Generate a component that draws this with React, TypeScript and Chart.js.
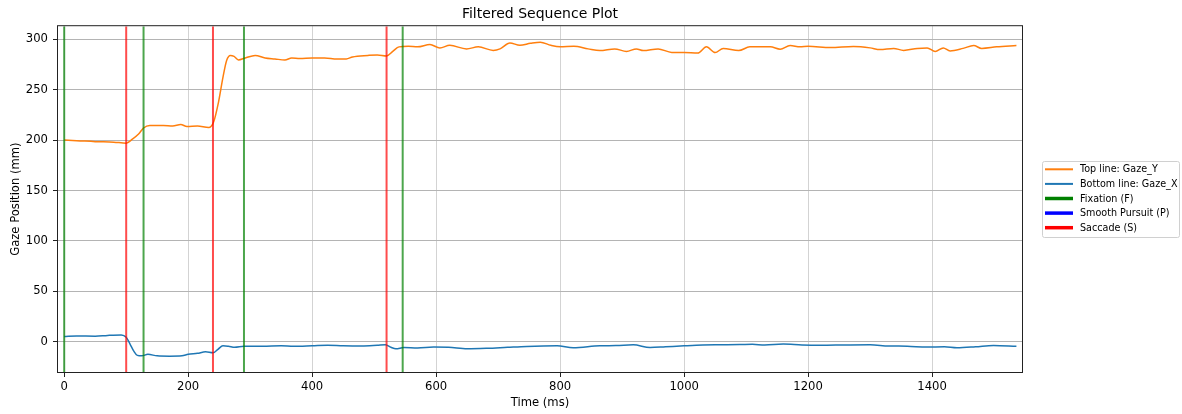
import { useEffect, useRef } from "react";
import { Chart, registerables } from "chart.js";

Chart.register(...registerables);

// ---- data ----
const gazeYTimes = [0, 20, 50, 80, 100, 110, 120, 128, 138, 160, 175, 188, 198, 215, 233, 241, 249, 256, 262, 268, 274, 281, 292, 308, 324, 340, 356, 367, 380, 400, 420, 440, 455, 465, 490, 505, 520, 530, 540, 555, 570, 590, 606, 622, 649, 668, 692, 703, 719, 735, 752, 768, 785, 800, 822, 845, 864, 888, 907, 923, 934, 958, 980, 1000, 1022, 1036, 1050, 1063, 1088, 1106, 1139, 1155, 1171, 1187, 1200, 1236, 1273, 1300, 1316, 1338, 1354, 1376, 1392, 1405, 1418, 1429, 1450, 1467, 1480, 1504, 1536];
const gazeYValues = [200, 199.5, 198.5, 198, 197, 201, 206, 212, 214.5, 214.5, 214, 215.5, 213.5, 214, 212.5, 218, 238, 262, 279, 284, 283, 279.5, 281.5, 284, 281.5, 280.5, 279.5, 281.5, 281, 281.5, 281.5, 280.5, 280.5, 282.5, 284, 284.5, 283.5, 288, 292.5, 293, 292.5, 294.8, 291.5, 294, 290.5, 292.5, 289, 290.5, 296.4, 294, 296, 297.2, 294, 292.5, 293, 290.5, 288.8, 290.5, 288, 290.5, 288.8, 290.5, 287, 287, 286.3, 292.5, 286.8, 291, 288.8, 292.5, 292.5, 290.2, 293.8, 292.5, 293, 291.8, 292.8, 291.5, 289.8, 291, 289, 291, 291.5, 288, 291.5, 288.5, 291, 293.8, 291, 292.5, 293.8];

const gazeXTimes = [0, 20, 50, 70, 92, 100, 106, 112, 118, 125, 135, 150, 170, 190, 200, 215, 228, 240, 248, 256, 265, 275, 290, 320, 350, 370, 400, 425, 450, 480, 505, 518, 527, 535, 548, 570, 596, 620, 650, 682, 715, 746, 795, 821, 864, 890, 918, 945, 970, 1000, 1030, 1060, 1090, 1110, 1130, 1160, 1190, 1220, 1260, 1300, 1330, 1360, 1391, 1420, 1440, 1470, 1499, 1536];
const gazeXValues = [5.2, 5.8, 5.5, 6.3, 6.8, 4.5, -2, -9, -13.5, -14, -12.5, -14, -14.3, -14, -12.5, -11.5, -10, -11, -7.5, -4, -4.5, -5.5, -4.5, -4.5, -4, -4.5, -4, -3.5, -4, -4.2, -3.5, -3, -5.5, -7, -5.8, -6.2, -5.3, -5.5, -7, -6.5, -5.5, -4.6, -4, -6, -4, -3.8, -3, -5.8, -5, -4, -3.2, -3, -2.8, -2.5, -3.2, -2.3, -3.2, -3.5, -3.2, -3, -4.2, -4.4, -5.3, -5, -6, -5, -3.6, -4.5];

const fixationTimes = [0, 128, 290, 546];
const smoothPursuitTimes: number[] = [];
const saccadeTimes = [100, 240, 520];

const xTickValues = [0, 200, 400, 600, 800, 1000, 1200, 1400];
const yTickValues = [0, 50, 100, 150, 200, 250, 300];

const titleText = "Filtered Sequence Plot";
const xLabel = "Time (ms)";
const yLabel = "Gaze Position (mm)";
const legendLabels = ["Top line: Gaze_Y", "Bottom line: Gaze_X", "Fixation (F)", "Smooth Pursuit (P)", "Saccade (S)"];

const X_MIN = -10;
const X_MAX = 1545;
const Y_MIN = -30;
const Y_MAX = 313;

// ---- styles ----
const FONT = "'DejaVu Sans', sans-serif";
const ORANGE = "#ff7f0e";
const BLUE = "#1f77b4";
const legendColors = [ORANGE, BLUE, "#008000", "#0000ff", "#ff0000"];
const legendWidths = [2, 2, 3.5, 3.5, 3.5];

const zip = (xs: number[], ys: number[]) => xs.map((x, i) => ({ x, y: ys[i] }));

const eventDatasets = (times: number[], color: string, label: string) =>
  times.map((t) => ({
    label,
    data: [
      { x: t, y: Y_MIN },
      { x: t, y: Y_MAX },
    ],
    borderColor: color,
    borderWidth: 2,
    pointRadius: 0,
    tension: 0,
    order: 0,
  }));

const framePlugin = {
  id: "frame",
  afterDraw(chart: any) {
    const { ctx, chartArea } = chart;
    ctx.save();
    ctx.strokeStyle = "#222";
    ctx.lineWidth = 1;
    ctx.strokeRect(chartArea.left - 0.5, chartArea.top - 0.5, chartArea.right - chartArea.left + 1, chartArea.bottom - chartArea.top + 1);
    ctx.restore();
  },
};

const legendPlugin = {
  id: "customLegend",
  afterDraw(chart: any) {
    const { ctx } = chart;
    const bx = 1042.5, by = 161.5, bw = 137, bh = 76, r = 2;
    ctx.save();
    ctx.beginPath();
    ctx.moveTo(bx + r, by);
    ctx.lineTo(bx + bw - r, by);
    ctx.quadraticCurveTo(bx + bw, by, bx + bw, by + r);
    ctx.lineTo(bx + bw, by + bh - r);
    ctx.quadraticCurveTo(bx + bw, by + bh, bx + bw - r, by + bh);
    ctx.lineTo(bx + r, by + bh);
    ctx.quadraticCurveTo(bx, by + bh, bx, by + bh - r);
    ctx.lineTo(bx, by + r);
    ctx.quadraticCurveTo(bx, by, bx + r, by);
    ctx.closePath();
    ctx.fillStyle = "rgba(255,255,255,0.8)";
    ctx.fill();
    ctx.strokeStyle = "#d0d0d0";
    ctx.lineWidth = 1;
    ctx.stroke();
    ctx.font = `9.6px ${FONT}`;
    ctx.textBaseline = "middle";
    ctx.textAlign = "left";
    legendLabels.forEach((lab, i) => {
      const y = 169.3 + i * 14.6;
      ctx.beginPath();
      ctx.strokeStyle = legendColors[i];
      ctx.lineWidth = legendWidths[i];
      ctx.moveTo(1045, y);
      ctx.lineTo(1073, y);
      ctx.stroke();
      ctx.fillStyle = "#000";
      ctx.fillText(lab, 1080, y + 0.5);
    });
    ctx.restore();
  },
};

export default function App() {
  const ref = useRef<HTMLCanvasElement | null>(null);

  useEffect(() => {
    document.body.style.margin = "0";
    if (!ref.current) return;
    const chart = new Chart(ref.current, {
      type: "line",
      data: {
        datasets: [
          ...eventDatasets(fixationTimes, "rgba(0,128,0,0.7)", "Fixation (F)"),
          ...eventDatasets(smoothPursuitTimes, "rgba(0,0,255,0.7)", "Smooth Pursuit (P)"),
          ...eventDatasets(saccadeTimes, "rgba(255,0,0,0.7)", "Saccade (S)"),
          {
            label: legendLabels[0],
            data: zip(gazeYTimes, gazeYValues),
            borderColor: ORANGE,
            borderWidth: 1.5,
            pointRadius: 0,
            cubicInterpolationMode: "monotone",
            order: 1,
          },
          {
            label: legendLabels[1],
            data: zip(gazeXTimes, gazeXValues),
            borderColor: BLUE,
            borderWidth: 1.5,
            pointRadius: 0,
            cubicInterpolationMode: "monotone",
            order: 1,
          },
        ] as any,
      },
      options: {
        responsive: false,
        animation: false,
        devicePixelRatio: 1,
        layout: { padding: { left: 0, right: 160, top: 0, bottom: 0 } },
        plugins: {
          legend: { display: false },
          tooltip: { enabled: false },
          title: {
            display: true,
            text: titleText,
            fullSize: false,
            color: "#000",
            font: { family: FONT, size: 14, weight: "normal" as any },
            padding: { top: 6, bottom: 3.4 },
          },
        },
        scales: {
          x: {
            type: "linear",
            min: X_MIN,
            max: X_MAX,
            afterBuildTicks: (s: any) => {
              s.ticks = xTickValues.map((v) => ({ value: v }));
            },
            afterFit: (s: any) => {
              s.height = 42;
            },
            ticks: {
              color: "#000",
              font: { family: FONT, size: 11.6 },
              padding: 3,
              maxRotation: 0,
              autoSkip: false,
              callback: (v: any) => String(v),
            },
            grid: { color: "#d3d3d3", lineWidth: 1, tickLength: 5, tickColor: "#222" },
            border: { display: false },
            title: {
              display: true,
              text: xLabel,
              color: "#000",
              font: { family: FONT, size: 11.6 },
              padding: { top: 0, bottom: 4.5 },
            },
          },
          y: {
            type: "linear",
            min: Y_MIN,
            max: Y_MAX,
            afterBuildTicks: (s: any) => {
              s.ticks = yTickValues.map((v) => ({ value: v }));
            },
            afterFit: (s: any) => {
              s.width = 58;
            },
            ticks: {
              color: "#000",
              font: { family: FONT, size: 11.6 },
              padding: 5,
              callback: (v: any) => String(v),
            },
            grid: { color: "#b4b4b4", lineWidth: 1, tickLength: 5, tickColor: "#222" },
            border: { display: false },
            title: {
              display: true,
              text: yLabel,
              color: "#000",
              font: { family: FONT, size: 11.6 },
              padding: { top: 9.4, bottom: 0 },
            },
          },
        },
      } as any,
      plugins: [framePlugin, legendPlugin],
    });
    return () => chart.destroy();
  }, []);

  return (
    <div style={{ width: 1182, height: 414 }}>
      <canvas ref={ref} width={1182} height={414} style={{ display: "block" }} />
    </div>
  );
}
